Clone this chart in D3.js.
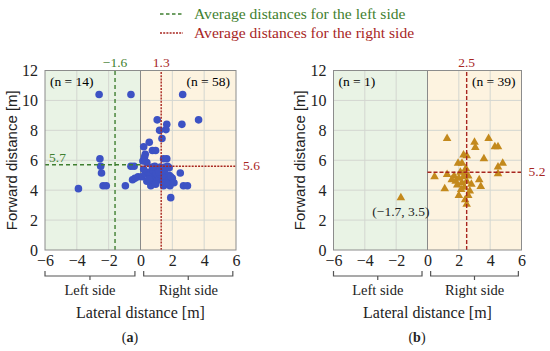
<!DOCTYPE html>
<html>
<head>
<meta charset="utf-8">
<script src="https://cdn.jsdelivr.net/npm/d3@7"></script>
<style>
  body { margin: 0; background: #fff; }
  svg { display: block; }
</style>
</head>
<body>
<svg id="chart" width="550" height="351"></svg>
<script>
// values: [lateral, forward] in metres
var leftA = [[-2.6, 10.4], [-0.6, 10.4], [-2.55, 6.1], [-2.5, 5.6], [-2.45, 5.15], [-3.9, 4.1],
  [-2.35, 4.3], [-2.15, 4.3], [-0.95, 4.3], [-0.6, 5.6], [-0.4, 5.6], [-0.5, 4.7],
  [-0.35, 4.8], [-0.15, 4.9]]
var rightA = [[2.65, 10.4], [3.65, 8.7], [2.6, 8.4], [1.05, 8.7], [1.65, 8.4], [1.2, 8.0],
  [1.6, 8.05], [1.35, 7.45], [0.55, 7.2], [0.2, 6.9], [0.75, 6.65], [0.95, 6.65],
  [0.3, 6.4], [1.45, 6.1], [1.65, 6.1], [0.15, 5.95], [0.4, 5.85], [1.7, 5.6],
  [1.8, 5.5], [0.9, 5.6], [2.5, 5.15], [0.65, 4.3], [1.45, 4.3], [1.85, 4.3],
  [2.7, 4.3], [2.95, 4.3], [1.9, 3.5], [0.1, 4.9], [0.3, 5.1], [0.5, 5.2],
  [0.6, 5.0], [0.7, 4.7], [0.8, 5.3], [0.9, 4.9], [1.0, 4.6], [1.0, 5.1],
  [1.1, 5.4], [1.2, 4.8], [1.3, 5.0], [1.4, 4.7], [1.5, 5.3], [1.6, 4.9],
  [1.7, 4.6], [1.8, 5.0], [2.0, 4.8], [0.4, 4.6], [0.2, 5.4], [0.75, 5.55],
  [1.25, 5.55], [1.45, 4.45], [1.9, 4.9], [0.55, 4.75], [0.95, 4.4], [1.15, 5.2],
  [1.55, 5.55], [0.25, 6.2], [1.6, 4.5], [2.1, 4.5]]
var leftB = [[-1.7, 3.5]]
var rightB = [[1.25, 7.45], [3.9, 7.45], [3.0, 7.2], [3.05, 6.85], [4.3, 6.9], [4.5, 6.9],
  [3.6, 6.1], [4.8, 5.8], [4.5, 5.55], [4.5, 5.1], [2.3, 6.35], [2.5, 6.3],
  [1.95, 5.8], [2.2, 5.8], [0.45, 4.9], [1.25, 5.05], [1.1, 4.1], [3.3, 4.7],
  [3.4, 4.25], [2.8, 4.4], [2.0, 3.65], [2.4, 3.35], [2.5, 3.05], [2.6, 3.65],
  [1.7, 4.95], [1.8, 4.6], [2.0, 4.8], [2.1, 5.2], [2.2, 4.5], [2.3, 4.9],
  [2.4, 5.15], [2.35, 4.2], [2.5, 4.6], [2.6, 4.95], [1.55, 4.7], [2.15, 4.05],
  [2.7, 3.95], [2.45, 5.45], [1.9, 4.35]]

var xTicks = [-6, -4, -2, 0, 2, 4, 6]
var yTicks = [0, 2, 4, 6, 8, 10, 12]
var meansA = {leftX: -1.6, leftY: 5.7, rightX: 1.3, rightY: 5.6}
var meansB = {rightX: 2.5, rightY: 5.2}

var serif = "'Liberation Serif', 'Times New Roman', serif"
var green = "#3f7f30", red = "#a8261f"

var svg = d3.select("#chart")

// legend
var legend = [
  {text: "Average distances for the left side", color: green, dash: "3.5,2.5"},
  {text: "Average distances for the right side", color: red, dash: "2,1.2"}
]
legend.forEach(function(d, i) {
  var yy = 14 + i * 19
  svg.append("line").attr("x1", 160).attr("x2", 183).attr("y1", yy).attr("y2", yy)
    .attr("stroke", d.color).attr("stroke-width", 1.5).attr("stroke-dasharray", d.dash)
  svg.append("text").attr("x", 194).attr("y", yy + 5)
    .style("font-family", serif).style("font-size", "15.6px")
    .attr("fill", d.color).text(d.text)
})

function panel(opt) {
  var x = d3.scaleLinear().domain([-6, 6]).range([opt.left, opt.right])
  var y = d3.scaleLinear().domain([0, 12]).range([250, 70.5])
  var g = svg.append("g")

  // backgrounds
  g.append("rect").attr("x", x(-6)).attr("y", y(12)).attr("width", x(0) - x(-6))
    .attr("height", y(0) - y(12)).attr("fill", "#e9f3e5")
  g.append("rect").attr("x", x(0)).attr("y", y(12)).attr("width", x(6) - x(0))
    .attr("height", y(0) - y(12)).attr("fill", "#fdf3e0")

  // grid
  g.selectAll(".gx").data(xTicks.filter(d => d != 0 && Math.abs(d) != 6)).enter()
    .append("line").attr("x1", d => x(d)).attr("x2", d => x(d))
    .attr("y1", y(0)).attr("y2", y(12)).attr("stroke", "#d3d6d0").attr("stroke-width", 1)
  g.selectAll(".gy").data(yTicks.filter(d => d != 0 && d != 12)).enter()
    .append("line").attr("x1", x(-6)).attr("x2", x(6))
    .attr("y1", d => y(d)).attr("y2", d => y(d)).attr("stroke", "#d3d6d0").attr("stroke-width", 1)
  g.append("line").attr("x1", x(0)).attr("x2", x(0)).attr("y1", y(0)).attr("y2", y(12))
    .attr("stroke", "#8a8a8a").attr("stroke-width", 1)

  // points
  if (opt.shape == "circle") {
    g.selectAll(".pt").data(opt.left_pts.concat(opt.right_pts)).enter()
      .append("circle").attr("cx", d => x(d[0])).attr("cy", d => y(d[1]))
      .attr("r", 3.8).attr("fill", "#3d52c4")
  } else {
    var tri = d3.symbol().type(d3.symbolTriangle).size(32)
    g.selectAll(".pt").data(opt.left_pts.concat(opt.right_pts)).enter()
      .append("path").attr("d", tri)
      .attr("transform", d => "translate(" + x(d[0]) + "," + y(d[1]) + ")")
      .attr("fill", "#c3891c")
  }

  // mean lines
  var m = opt.means
  if (m.leftX != null) {
    g.append("line").attr("x1", x(m.leftX)).attr("x2", x(m.leftX)).attr("y1", y(0)).attr("y2", y(12))
      .attr("stroke", green).attr("stroke-width", 1.4).attr("stroke-dasharray", "4,3")
    g.append("line").attr("x1", x(-6)).attr("x2", x(0)).attr("y1", y(m.leftY)).attr("y2", y(m.leftY))
      .attr("stroke", green).attr("stroke-width", 1.4).attr("stroke-dasharray", "4,3")
    g.append("text").attr("x", x(m.leftX)).attr("y", y(12) - 4).attr("text-anchor", "middle")
      .style("font-family", serif).style("font-size", "13.5px").attr("fill", green)
      .text(d3.format(".1f")(m.leftX))
    g.append("text").attr("x", x(-6) + 4).attr("y", y(m.leftY) - 3)
      .style("font-family", serif).style("font-size", "13.5px").attr("fill", green)
      .text(d3.format(".1f")(m.leftY))
  }
  g.append("line").attr("x1", x(m.rightX)).attr("x2", x(m.rightX)).attr("y1", y(0)).attr("y2", y(12))
    .attr("stroke", red).attr("stroke-width", 1.4).attr("stroke-dasharray", opt.redDash)
  g.append("line").attr("x1", x(0)).attr("x2", x(6)).attr("y1", y(m.rightY)).attr("y2", y(m.rightY))
    .attr("stroke", red).attr("stroke-width", 1.4).attr("stroke-dasharray", opt.redDash)
  g.append("text").attr("x", x(m.rightX)).attr("y", y(12) - 4).attr("text-anchor", "middle")
    .style("font-family", serif).style("font-size", "13.5px").attr("fill", red)
    .text(d3.format(".1f")(m.rightX))
  g.append("text").attr("x", x(6) + 7).attr("y", y(m.rightY) + 4)
    .style("font-family", serif).style("font-size", "13.5px").attr("fill", red)
    .text(d3.format(".1f")(m.rightY))

  // border
  g.append("rect").attr("x", x(-6)).attr("y", y(12)).attr("width", x(6) - x(-6))
    .attr("height", y(0) - y(12)).attr("fill", "none").attr("stroke", "#8c8c8c").attr("stroke-width", 1)

  // counts
  g.append("text").attr("x", x(-6) + 5).attr("y", y(12) + 15)
    .style("font-family", serif).style("font-size", "13.5px")
    .text("(n = " + opt.left_pts.length + ")")
  g.append("text").attr("x", x(6) - 6).attr("y", y(12) + 15).attr("text-anchor", "end")
    .style("font-family", serif).style("font-size", "13.5px")
    .text("(n = " + opt.right_pts.length + ")")

  // axes
  var ax = g.append("g").attr("transform", "translate(" + x(-6) + ",0)")
    .call(d3.axisLeft(y).tickValues(yTicks).tickSize(0).tickPadding(7))
  var bx = g.append("g").attr("transform", "translate(0," + y(0) + ")")
    .call(d3.axisBottom(x).tickValues(xTicks).tickSize(0).tickPadding(5))
  ;[ax, bx].forEach(function(a) {
    a.select(".domain").remove()
    a.selectAll("text").style("font-family", serif).style("font-size", "16px").attr("fill", "#222")
  })

  // side brackets
  var brackets = [[-6, -0.35, "Left side"], [0.2, 5.8, "Right side"]]
  brackets.forEach(function(b) {
    var a = x(b[0]), c = x(b[1]), mid = (a + c) / 2
    g.append("path")
      .attr("d", "M" + a + ",271V276H" + c + "V271M" + mid + ",276V280")
      .attr("fill", "none").attr("stroke", "#555").attr("stroke-width", 1.2)
    g.append("text").attr("x", mid).attr("y", 295).attr("text-anchor", "middle")
      .style("font-family", serif).style("font-size", "14.5px").attr("fill", "#222").text(b[2])
  })

  g.append("text").attr("x", x(0)).attr("y", 318).attr("text-anchor", "middle")
    .style("font-family", serif).style("font-size", "16px").attr("fill", "#222")
    .text("Lateral distance [m]")

  g.append("text").attr("transform", "translate(" + opt.ytitle + "," + y(6) + ") rotate(-90)")
    .attr("text-anchor", "middle")
    .style("font-family", "'Liberation Sans', Arial, sans-serif").style("font-size", "15px")
    .attr("fill", "#222").text("Forward distance [m]")

  var cap = g.append("text").attr("x", opt.capX).attr("y", 342).attr("text-anchor", "middle")
    .style("font-family", serif).style("font-size", "14px").attr("fill", "#222")
  cap.append("tspan").text("(")
  cap.append("tspan").style("font-weight", "bold").text(opt.cap)
  cap.append("tspan").text(")")

  if (opt.note) {
    g.append("text").attr("x", x(opt.note[0])).attr("y", y(opt.note[1]) + 18)
      .attr("text-anchor", "middle")
      .style("font-family", serif).style("font-size", "13.5px").attr("fill", "#222")
      .text("(" + d3.format(".1f")(opt.note[0]) + ", " + d3.format(".1f")(opt.note[1]) + ")")
  }
}

panel({left: 45, right: 236, left_pts: leftA, right_pts: rightA, shape: "circle",
  means: meansA, redDash: "2,1.2", ytitle: 17, capX: 130, cap: "a"})
panel({left: 333.5, right: 521.5, left_pts: leftB, right_pts: rightB, shape: "triangle",
  means: meansB, redDash: "4,2", ytitle: 305, capX: 417, cap: "b", note: leftB[0]})
</script>
</body>
</html>
